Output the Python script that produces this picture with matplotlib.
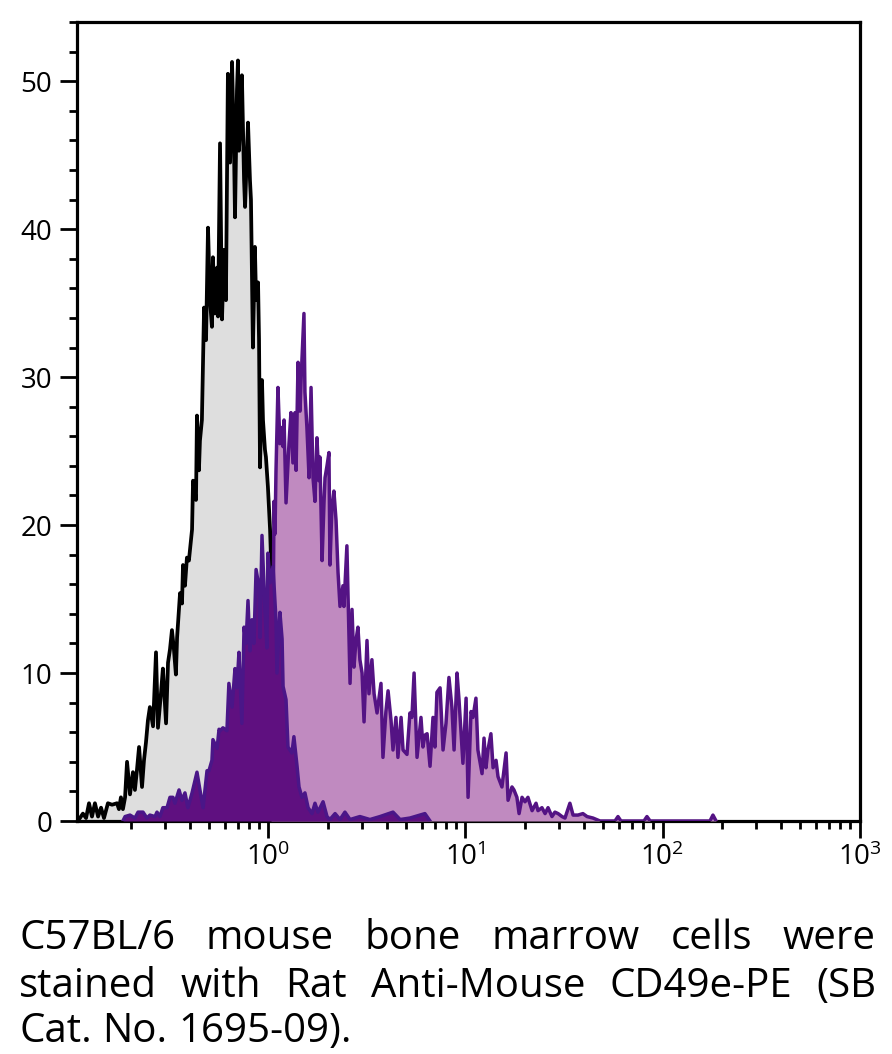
import numpy as np
import matplotlib
matplotlib.use("Agg")
import matplotlib.pyplot as plt
from matplotlib.ticker import LogLocator, FixedLocator, MultipleLocator, FuncFormatter, NullFormatter

plt.rcParams['font.family'] = ['Open Sans', 'DejaVu Sans']
plt.rcParams['mathtext.fontset'] = 'custom'
plt.rcParams['mathtext.rm'] = 'Open Sans'
plt.rcParams['mathtext.it'] = 'Open Sans'

# isotype control (gray), log10 of fluorescence and event count
gray_log = [-0.972, -0.957, -0.942, -0.926, -0.911, -0.896, -0.881, -0.865, -0.850, -0.835,
            -0.815, -0.794, -0.769, -0.759, -0.749, -0.739, -0.728, -0.718, -0.703, -0.688,
            -0.678, -0.668, -0.657, -0.642, -0.632, -0.622, -0.612, -0.602, -0.586, -0.571,
            -0.561, -0.546, -0.536, -0.520, -0.510, -0.500, -0.490, -0.480, -0.470, -0.464,
            -0.449, -0.439, -0.434, -0.424, -0.414, -0.404, -0.388, -0.383, -0.368, -0.363,
            -0.353, -0.348, -0.338, -0.327, -0.317, -0.307, -0.297, -0.287, -0.282, -0.272,
            -0.261, -0.256, -0.246, -0.236, -0.226, -0.216, -0.206, -0.195, -0.185, -0.175,
            -0.170, -0.160, -0.155, -0.150, -0.140, -0.135, -0.124, -0.119, -0.109, -0.104,
            -0.094, -0.089, -0.079, -0.069, -0.063, -0.053, -0.048, -0.043, -0.033, -0.028,
            -0.018, -0.013, -0.003, 0.008, 0.013, 0.018, 0.023]
gray_cnt = [0.0, 0.2, 0.5, 0.2, 1.2, 0.3, 1.2, 0.3, 0.9, 0.2,
            1.2, 1.1, 1.2, 0.8, 1.6, 0.8, 1.6, 4.0, 1.8, 3.3,
            2.1, 3.4, 5.0, 2.3, 4.1, 5.3, 6.8, 7.7, 6.4, 11.4,
            6.3, 8.6, 10.3, 6.6, 10.7, 11.6, 12.9, 11.6, 9.9, 12.4,
            15.4, 14.7, 17.3, 15.9, 17.8, 17.6, 19.7, 23.0, 21.7, 27.4,
            23.7, 25.7, 27.1, 34.7, 32.5, 40.1, 35.2, 33.4, 38.1, 34.3,
            37.4, 34.1, 45.8, 33.9, 38.6, 35.2, 50.5, 44.5, 51.3, 45.3,
            40.8, 49.4, 51.4, 45.3, 48.0, 50.4, 43.3, 41.5, 45.3, 47.2,
            43.3, 42.0, 32.0, 38.8, 35.2, 36.4, 32.5, 23.9, 29.8, 27.1,
            25.1, 24.6, 22.6, 19.7, 17.6, 9.5, 0.0]

# CD49e-PE stained, main population (light purple)
stain_log = [0.013, 0.023, 0.028, 0.033, 0.038, 0.048, 0.058, 0.063, 0.074, 0.079,
             0.089, 0.104, 0.114, 0.124, 0.135, 0.140, 0.150, 0.160, 0.165, 0.180,
             0.185, 0.195, 0.206, 0.216, 0.226, 0.236, 0.246, 0.256, 0.261, 0.272,
             0.282, 0.287, 0.297, 0.307, 0.312, 0.322, 0.332, 0.343, 0.353, 0.363,
             0.378, 0.383, 0.398, 0.414, 0.424, 0.434, 0.444, 0.454, 0.464, 0.475,
             0.485, 0.500, 0.510, 0.525, 0.536, 0.551, 0.571, 0.581, 0.596, 0.607,
             0.622, 0.632, 0.647, 0.657, 0.673, 0.683, 0.703, 0.718, 0.728, 0.739,
             0.754, 0.774, 0.784, 0.794, 0.805, 0.820, 0.835, 0.845, 0.855, 0.871,
             0.886, 0.901, 0.916, 0.931, 0.942, 0.957, 0.967, 0.987, 1.003, 1.013,
             1.028, 1.038, 1.053, 1.063, 1.084, 1.094, 1.104, 1.114, 1.129, 1.140,
             1.155, 1.165, 1.185, 1.206, 1.216, 1.236, 1.246, 1.261, 1.272, 1.287,
             1.302, 1.317, 1.338, 1.358, 1.368, 1.388, 1.404, 1.419, 1.439, 1.454,
             1.470, 1.490, 1.505, 1.530, 1.546, 1.571, 1.596, 1.617, 1.647, 1.683,
             1.759, 1.774, 1.789, 1.906, 1.921, 1.937, 2.241, 2.256, 2.272]
stain_cnt = [0.0, 12.2, 21.6, 19.4, 23.6, 29.3, 25.5, 26.6, 25.3, 27.1,
             21.5, 25.5, 27.6, 24.2, 27.6, 23.7, 31.0, 27.7, 29.7, 34.3,
             29.0, 26.6, 23.2, 29.3, 23.2, 21.6, 25.9, 23.0, 24.6, 17.6,
             21.6, 23.2, 24.0, 24.9, 17.3, 21.2, 22.3, 20.3, 16.8, 14.5,
             15.9, 14.5, 18.6, 9.3, 14.3, 10.4, 12.2, 13.1, 10.9, 10.0,
             6.7, 12.2, 8.6, 10.9, 8.6, 7.3, 9.3, 4.3, 7.4, 8.8,
             6.8, 4.8, 7.0, 4.3, 7.0, 4.8, 4.5, 7.3, 7.0, 10.0,
             4.3, 7.0, 5.0, 5.8, 5.9, 3.7, 7.0, 5.0, 8.7, 9.0,
             4.8, 6.6, 9.7, 7.7, 4.8, 10.0, 8.2, 3.9, 8.3, 1.6,
             7.4, 7.0, 8.3, 4.8, 3.2, 5.6, 3.6, 4.8, 5.9, 3.6,
             4.1, 3.0, 2.3, 4.6, 1.4, 2.3, 2.1, 1.6, 0.5, 1.6,
             1.3, 1.6, 0.7, 1.2, 0.7, 0.9, 0.5, 0.9, 0.3, 0.6,
             0.5, 0.3, 0.2, 1.2, 0.4, 0.4, 0.5, 0.3, 0.2, 0.0,
             0.0, 0.3, 0.0, 0.0, 0.3, 0.0, 0.0, 0.4, 0.0]

# dim population (dark purple)
dim_log = [-0.739, -0.728, -0.703, -0.678, -0.662, -0.637, -0.617, -0.602, -0.576, -0.566,
           -0.551, -0.536, -0.515, -0.500, -0.485, -0.475, -0.454, -0.439, -0.424, -0.409,
           -0.388, -0.363, -0.348, -0.332, -0.312, -0.302, -0.287, -0.282, -0.261, -0.251,
           -0.246, -0.231, -0.211, -0.201, -0.185, -0.170, -0.160, -0.150, -0.135, -0.124,
           -0.114, -0.104, -0.094, -0.084, -0.074, -0.063, -0.048, -0.043, -0.033, -0.018,
           -0.008, -0.003, 0.008, 0.023, 0.038, 0.043, 0.058, 0.069, 0.074, 0.089,
           0.099, 0.119, 0.129, 0.145, 0.155, 0.170, 0.185, 0.201, 0.221, 0.236,
           0.251, 0.277, 0.297, 0.312, 0.338, 0.363, 0.388, 0.414, 0.464, 0.515,
           0.566, 0.632, 0.668, 0.718, 0.794, 0.820]
dim_cnt = [0.0, 0.3, 0.4, 0.2, 0.6, 0.6, 0.2, 0.4, 0.3, 0.6,
           0.3, 0.9, 0.9, 1.6, 1.6, 1.2, 2.1, 1.4, 1.9, 0.9,
           1.9, 3.3, 2.1, 0.9, 3.4, 3.4, 4.1, 5.5, 4.9, 6.2,
           6.1, 6.3, 6.1, 9.3, 7.7, 10.3, 9.0, 11.4, 6.6, 13.1,
           12.0, 14.9, 11.5, 13.6, 12.0, 17.0, 15.8, 12.4, 19.3, 14.2,
           11.7, 18.1, 16.1, 17.2, 13.6, 10.0, 14.1, 12.3, 9.1, 8.2,
           5.0, 4.6, 5.7, 3.7, 2.3, 1.6, 1.9, 0.9, 0.5, 1.2,
           0.6, 1.3, 0.3, 0.1, 0.5, 0.1, 0.6, 0.1, 0.3, 0.1,
           0.3, 0.6, 0.1, 0.2, 0.5, 0.0]

caption = ["C57BL/6 mouse bone marrow cells were",
           "stained with Rat Anti-Mouse CD49e-PE (SB",
           "Cat. No. 1695-09)."]

W, H = 892, 1054
fig = plt.figure(figsize=(W / 100, H / 100), dpi=100)
ax = fig.add_axes([77 / W, 1 - 821 / H, (860 - 77) / W, (821 - 22) / H])

gx = 10 ** np.array(gray_log)
sx = 10 ** np.array(stain_log)
dx = 10 ** np.array(dim_log)

ax.fill_between(gx, gray_cnt, color="#dedede", lw=0, zorder=1)
ax.plot(gx, gray_cnt, color="black", lw=2.7, zorder=2)
ax.fill_between(sx, stain_cnt, color="#c08ac0", lw=0, zorder=3)
ax.plot(sx, stain_cnt, color="#541384", lw=2.5, zorder=4)
ax.fill_between(dx, dim_cnt, color="#5f1080", lw=0, zorder=5)
ax.plot(dx, dim_cnt, color="#4a1688", lw=2.5, zorder=6)

ax.set_xscale("log")
ax.set_xlim(10 ** -0.972, 10 ** 3.0025)
ax.set_ylim(0, 54.0)

ax.xaxis.set_major_locator(FixedLocator([1, 10, 100, 1000]))
ax.xaxis.set_minor_locator(LogLocator(base=10, subs=np.arange(2, 10), numticks=20))
ax.xaxis.set_major_formatter(FuncFormatter(lambda v, p: r"$10^{%d}$" % round(np.log10(v))))
ax.xaxis.set_minor_formatter(NullFormatter())
ax.yaxis.set_major_locator(MultipleLocator(10))
ax.yaxis.set_minor_locator(MultipleLocator(2))

for s in ax.spines.values():
    s.set_linewidth(2.3)
ax.tick_params(which="major", direction="out", length=12, width=2.0, labelsize=20, pad=4)
ax.tick_params(which="minor", direction="out", length=6, width=2.0)
ax.tick_params(axis="y", which="major", pad=6)
ax.tick_params(top=False, right=False)

# justified caption
fs = 29
rend = fig.canvas.get_renderer()
left_px, right_px = 19, 876
baselines = [949, 997, 1042]
for i, line in enumerate(caption):
    words = line.split(" ")
    texts = [fig.text(0, 0, w, fontsize=fs, va="baseline", ha="left") for w in words]
    widths = [t.get_window_extent(rend).width for t in texts]
    if i < len(caption) - 1:
        gap = (right_px - left_px - sum(widths)) / (len(words) - 1)
    else:
        sp = fig.text(0, 0, "a a", fontsize=fs)
        sp2 = fig.text(0, 0, "aa", fontsize=fs)
        gap = sp.get_window_extent(rend).width - sp2.get_window_extent(rend).width
        sp.remove()
        sp2.remove()
    xpos = left_px
    for t, w in zip(texts, widths):
        t.set_position((xpos / W, 1 - baselines[i] / H))
        xpos += w + gap

fig.savefig("out.png", dpi=100)
